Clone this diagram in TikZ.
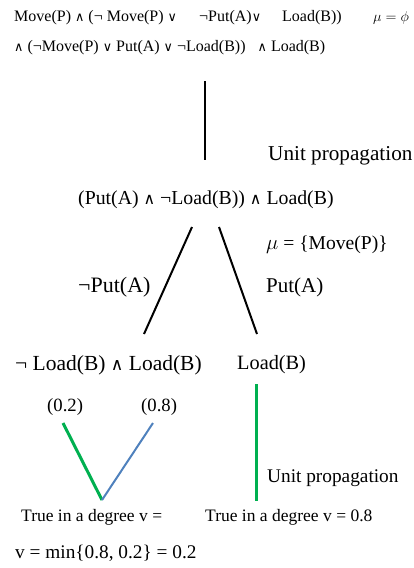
\documentclass[tikz,border=0pt]{standalone}
\usepackage{fontspec}
\setmainfont{Liberation Serif}
\newfontfamily\symf{DejaVu Sans}
\newcommand{\myand}{{\symf\scalebox{0.8}{∧}}}
\newcommand{\myor}{{\symf\scalebox{0.8}{∨}}}
\definecolor{lgreen}{RGB}{0,176,80}
\definecolor{lblue}{RGB}{79,129,189}
\begin{document}
\begin{tikzpicture}[x=1pt,y=-1pt,
  txt/.style={anchor=west,inner sep=0pt},
  fs/.style={font=\fontsize{#1}{#1}\selectfont},
  blk/.style={line width=2pt,black},
  grn/.style={line width=3pt,lgreen},
  blu/.style={line width=2pt,lblue}]
\useasboundingbox (0,0) rectangle (414,568);
\node[txt,fs=16] (l1a) at (14,18) {Move(P) \myand{} (¬\ Move(P)\ \myor{}};
\node[txt,fs=16] (l1b) at (199,18) {¬Put(A)\myor{}};
\node[txt,fs=16] (l1c) at (282,18) {Load(B))};
\node[txt,fs=14] (mu0) at (373,18) {$\mu = \phi$};
\node[txt,fs=16] (l2) at (14,48) {\myand{} (¬Move(P) \myor{} Put(A) \myor{} ¬Load(B))\ \ \ \myand{} Load(B)};
\coordinate (v1a) at (205,81);
\coordinate (v1b) at (205,160);
\draw[blk] (v1a) -- (v1b);
\node[txt,fs=21.2] (up1) at (268,156) {Unit propagation};
\node[txt,fs=19.8] (f2) at (78,200) {(Put(A) \myand{} ¬Load(B)) \myand{} Load(B)};
\coordinate (la) at (192,227);
\coordinate (lb) at (144,334);
\coordinate (ra) at (219,227);
\coordinate (rb) at (257,334);
\draw[blk] (la) -- (lb);
\draw[blk] (ra) -- (rb);
\node[txt,fs=19.6] (mu1) at (266,245) {$\mu$ = \{Move(P)\}};
\node[txt,fs=22] (np) at (78,287) {¬Put(A)};
\node[txt,fs=21] (pp) at (266,287) {Put(A)};
\node[txt,fs=21.5] (f3) at (15,365) {¬ Load(B) \myand{} Load(B)};
\node[txt,fs=20.3] (f4) at (237,365) {Load(B)};
\node[txt,fs=18.7] (w1) at (47,407) {(0.2)};
\node[txt,fs=18.7] (w2) at (141,407) {(0.8)};
\coordinate (ga) at (63,423);
\coordinate (vb) at (102,500);
\coordinate (bb) at (153,423);
\draw[grn] (ga) -- (vb);
\draw[blu] (vb) -- (bb);
\coordinate (g2a) at (256,384);
\coordinate (g2b) at (256,501);
\draw[grn] (g2a) -- (g2b);
\node[txt,fs=19.3] (up2) at (267,478) {Unit propagation};
\node[txt,fs=17.5] (t1) at (21,517) {True in a degree v =};
\node[txt,fs=17.5] (t2) at (205,517) {True in a degree v = 0.8};
\node[txt,fs=19.3] (vm) at (15,553) {v = min\{0.8, 0.2\} = 0.2};
\end{tikzpicture}
\end{document}
